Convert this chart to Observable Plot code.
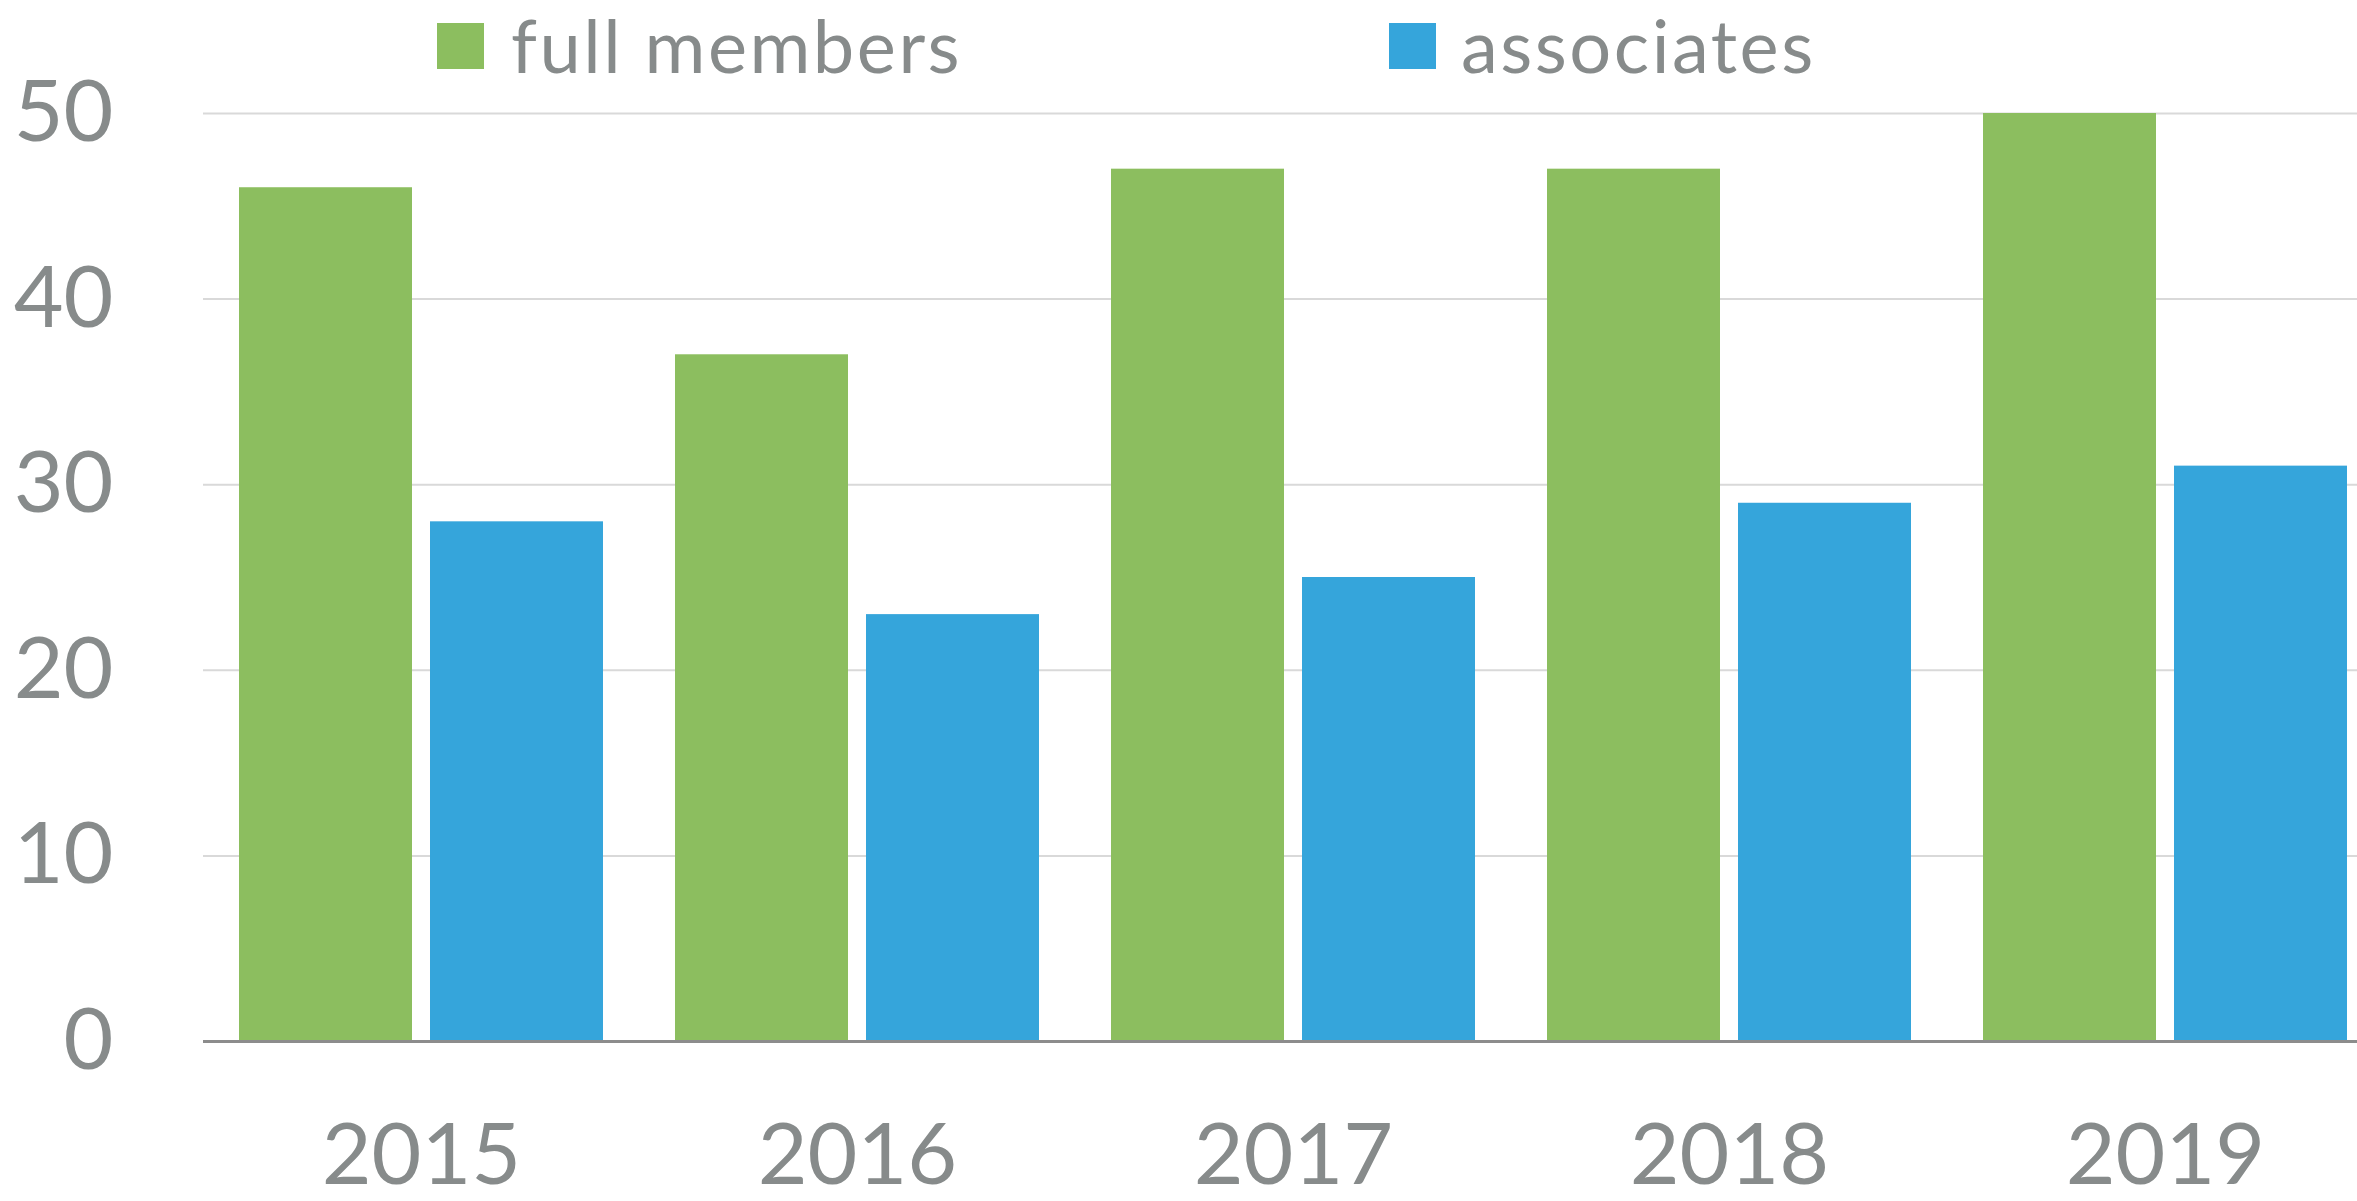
<!DOCTYPE html>
<html>
<head>
<meta charset="utf-8">
<script src="https://cdn.jsdelivr.net/npm/d3@7"></script>
<script src="https://cdn.jsdelivr.net/npm/@observablehq/plot@0.6"></script>
<style>
  html, body { margin: 0; padding: 0; background: #fff; overflow: hidden; }
  #wrap { position: relative; width: 2357px; height: 1201px; overflow: hidden; }
  #legend { position: relative; height: 40px; font-family: Lato, sans-serif; color: #878b8b; z-index: 2; }
  .sw { position: absolute; top: 23px; width: 47px; height: 46px; }
  .lt { position: absolute; top: 8px; font-size: 74px; line-height: 74px; letter-spacing: 2.5px; white-space: nowrap; }
  #chart svg { display: block; max-width: none !important; }
</style>
</head>
<body>
<div id="wrap">
  <div id="legend"></div>
  <div id="chart"></div>
</div>
<script>
const years = ["2015", "2016", "2017", "2018", "2019"];
const fullMembers = [46, 37, 47, 47, 50];
const associates = [28, 23, 25, 29, 31];
const seriesNames = ["full members", "associates"];
const seriesColors = ["#8cbe5f", "#35a5db"];
const yTicks = [0, 10, 20, 30, 40, 50];

const data = years.flatMap((yr, i) => [
  {year: yr, series: seriesNames[0], value: fullMembers[i]},
  {year: yr, series: seriesNames[1], value: associates[i]}
]);

// legend
const legend = document.getElementById("legend");
const legendPos = [[437, 511], [1389, 1461]];
seriesNames.forEach((name, i) => {
  const sw = document.createElement("div");
  sw.className = "sw";
  sw.style.left = legendPos[i][0] + "px";
  sw.style.background = seriesColors[i];
  legend.appendChild(sw);
  const t = document.createElement("span");
  t.className = "lt";
  t.style.left = legendPos[i][1] + "px";
  t.textContent = name;
  legend.appendChild(t);
});

const chart = Plot.plot({
  width: 2383,
  height: 1161,
  marginTop: 73,
  marginBottom: 160,
  marginLeft: 203,
  marginRight: 0,
  style: {fontFamily: "Lato, sans-serif", color: "#878b8b", background: "transparent", maxWidth: "none"},
  fx: {domain: years, padding: 0, label: null},
  x: {domain: seriesNames, paddingInner: 0.09375, paddingOuter: 0.1823, axis: null},
  y: {domain: [0, 50], label: null},
  color: {domain: seriesNames, range: seriesColors},
  marks: [
    Plot.gridY(yTicks, {stroke: "#d9d9d9", strokeOpacity: 1, strokeWidth: 2}),
    Plot.barY(data, {fx: "year", x: "series", y: "value", fill: "series"}),
    Plot.ruleY([0], {stroke: "#8c8c8c", strokeWidth: 3}),
    Plot.axisY(yTicks, {tickSize: 0, tickPadding: 90, label: null, fontSize: 86, fill: "#878b8b"}),
    Plot.axisFx({anchor: "bottom", tickSize: 0, tickPadding: 81, label: null, fontSize: 86, fill: "#878b8b"})
  ]
});
document.getElementById("chart").appendChild(chart);
</script>
</body>
</html>
